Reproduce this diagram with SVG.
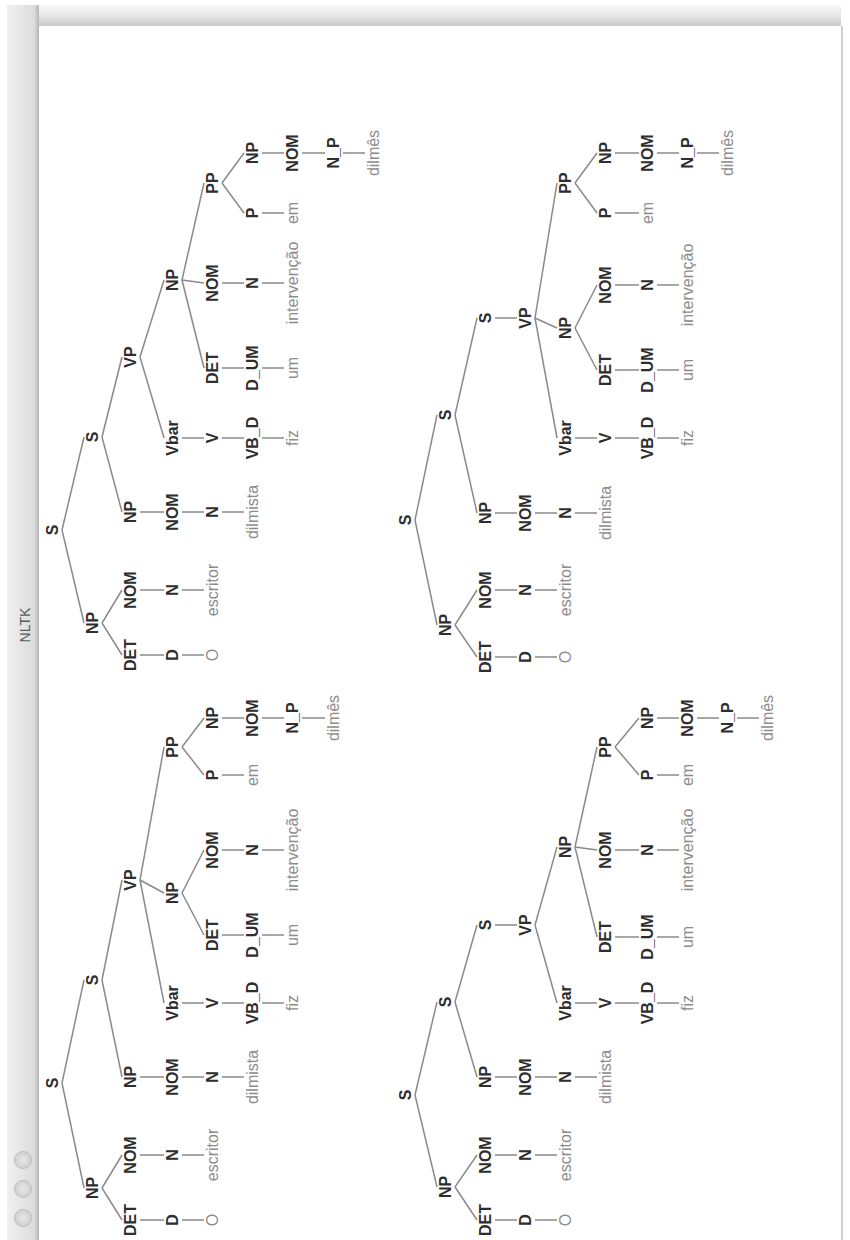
<svg xmlns="http://www.w3.org/2000/svg" width="850" height="1240" viewBox="0 0 850 1240">
<defs>
<linearGradient id="gTop" x1="0" y1="0" x2="0" y2="1">
<stop offset="0" stop-color="#f8f8f8"/><stop offset="0.5" stop-color="#e6e6e6"/><stop offset="1" stop-color="#cacaca"/>
</linearGradient>
<linearGradient id="gLeft" x1="0" y1="0" x2="1" y2="0">
<stop offset="0" stop-color="#f0f0f0"/><stop offset="0.85" stop-color="#dcdcdc"/><stop offset="1" stop-color="#b4b4b4"/>
</linearGradient>
<radialGradient id="gBtn"><stop offset="0" stop-color="#e8e8e8"/><stop offset="1" stop-color="#cfcfcf"/></radialGradient>
</defs>
<style>
.nt{font-family:"Liberation Sans",Arial,sans-serif;font-size:16px;font-weight:bold;fill:#2e2e2e;text-anchor:middle;dominant-baseline:central}
.lf{font-family:"Liberation Sans",Arial,sans-serif;font-size:16px;fill:#8c8c8c;text-anchor:middle;dominant-baseline:central}
.ttl{font-family:"Liberation Sans",Arial,sans-serif;font-size:14px;fill:#5a5a5a;text-anchor:middle;dominant-baseline:central}
#edges line{stroke:#8a8a8a;stroke-width:1.5}
</style>
<rect width="850" height="1240" fill="#ffffff"/>
<g id="window">
<rect x="39" y="5" width="802" height="21" fill="url(#gTop)"/>
<rect x="7" y="5" width="32" height="1235" fill="url(#gLeft)"/>
<line x1="842" y1="26" x2="842" y2="1240" stroke="#d0d0d0" stroke-width="2"/>
<text class="ttl" transform="translate(25,625) rotate(-90)">NLTK</text>
<circle cx="23" cy="1160" r="8.5" fill="url(#gBtn)" stroke="#bdbdbd"/>
<circle cx="23" cy="1189" r="8.5" fill="url(#gBtn)" stroke="#bdbdbd"/>
<circle cx="23" cy="1218" r="8.5" fill="url(#gBtn)" stroke="#bdbdbd"/>
</g>
<g id="edges">
<line x1="62" y1="530" x2="84" y2="623"/><line x1="62" y1="530" x2="84" y2="437"/>
<line x1="102" y1="623" x2="122" y2="655"/><line x1="102" y1="623" x2="122" y2="590"/>
<line x1="140" y1="655" x2="164" y2="655"/><line x1="182" y1="655" x2="204" y2="655"/>
<line x1="140" y1="590" x2="164" y2="590"/><line x1="182" y1="590" x2="204" y2="590"/>
<line x1="102" y1="437" x2="122" y2="512"/><line x1="102" y1="437" x2="122" y2="357"/>
<line x1="140" y1="512" x2="164" y2="512"/><line x1="182" y1="512" x2="204" y2="512"/><line x1="222" y1="512" x2="244" y2="512"/>
<line x1="140" y1="357" x2="164" y2="438"/><line x1="140" y1="357" x2="164" y2="280"/>
<line x1="182" y1="438" x2="204" y2="438"/><line x1="222" y1="438" x2="244" y2="438"/><line x1="262" y1="438" x2="284" y2="438"/>
<line x1="182" y1="280" x2="204" y2="368"/><line x1="182" y1="280" x2="204" y2="283"/><line x1="182" y1="280" x2="204" y2="183"/>
<line x1="222" y1="368" x2="244" y2="368"/><line x1="262" y1="368" x2="284" y2="368"/>
<line x1="222" y1="283" x2="244" y2="283"/><line x1="262" y1="283" x2="284" y2="283"/>
<line x1="222" y1="183" x2="244" y2="213"/><line x1="222" y1="183" x2="244" y2="153"/>
<line x1="262" y1="213" x2="284" y2="213"/>
<line x1="262" y1="153" x2="284" y2="153"/><line x1="302" y1="153" x2="325" y2="153"/><line x1="343" y1="153" x2="365" y2="153"/>

<line x1="62" y1="1083" x2="84" y2="1188"/><line x1="62" y1="1083" x2="84" y2="980"/>
<line x1="102" y1="1188" x2="122" y2="1220"/><line x1="102" y1="1188" x2="122" y2="1155"/>
<line x1="140" y1="1220" x2="164" y2="1220"/><line x1="182" y1="1220" x2="204" y2="1220"/>
<line x1="140" y1="1155" x2="164" y2="1155"/><line x1="182" y1="1155" x2="204" y2="1155"/>
<line x1="102" y1="980" x2="122" y2="1077"/><line x1="102" y1="980" x2="122" y2="880"/>
<line x1="140" y1="1077" x2="164" y2="1077"/><line x1="182" y1="1077" x2="204" y2="1077"/><line x1="222" y1="1077" x2="244" y2="1077"/>
<line x1="140" y1="880" x2="164" y2="1003"/><line x1="140" y1="880" x2="164" y2="893"/><line x1="140" y1="880" x2="164" y2="747"/>
<line x1="182" y1="1003" x2="204" y2="1003"/><line x1="222" y1="1003" x2="244" y2="1003"/><line x1="262" y1="1003" x2="284" y2="1003"/>
<line x1="182" y1="893" x2="204" y2="935"/><line x1="182" y1="893" x2="204" y2="850"/>
<line x1="222" y1="935" x2="244" y2="935"/><line x1="262" y1="935" x2="284" y2="935"/>
<line x1="222" y1="850" x2="244" y2="850"/><line x1="262" y1="850" x2="284" y2="850"/>
<line x1="182" y1="747" x2="204" y2="775"/><line x1="182" y1="747" x2="204" y2="718"/>
<line x1="222" y1="775" x2="244" y2="775"/>
<line x1="222" y1="718" x2="244" y2="718"/><line x1="262" y1="718" x2="284" y2="718"/><line x1="302" y1="718" x2="325" y2="718"/>

<line x1="415" y1="520" x2="437" y2="625"/><line x1="415" y1="520" x2="437" y2="415"/>
<line x1="455" y1="625" x2="477" y2="657"/><line x1="455" y1="625" x2="477" y2="590"/>
<line x1="495" y1="657" x2="517" y2="657"/><line x1="535" y1="657" x2="557" y2="657"/>
<line x1="495" y1="590" x2="517" y2="590"/><line x1="535" y1="590" x2="557" y2="590"/>
<line x1="455" y1="415" x2="477" y2="513"/><line x1="455" y1="415" x2="477" y2="318"/>
<line x1="495" y1="513" x2="517" y2="513"/><line x1="535" y1="513" x2="557" y2="513"/><line x1="575" y1="513" x2="597" y2="513"/>
<line x1="495" y1="318" x2="517" y2="318"/>
<line x1="535" y1="318" x2="557" y2="438"/><line x1="535" y1="318" x2="557" y2="328"/><line x1="535" y1="318" x2="557" y2="183"/>
<line x1="575" y1="438" x2="597" y2="438"/><line x1="615" y1="438" x2="639" y2="438"/><line x1="657" y1="438" x2="679" y2="438"/>
<line x1="575" y1="328" x2="597" y2="370"/><line x1="575" y1="328" x2="597" y2="285"/>
<line x1="615" y1="370" x2="639" y2="370"/><line x1="657" y1="370" x2="679" y2="370"/>
<line x1="615" y1="285" x2="639" y2="285"/><line x1="657" y1="285" x2="679" y2="285"/>
<line x1="575" y1="183" x2="597" y2="213"/><line x1="575" y1="183" x2="597" y2="153"/>
<line x1="615" y1="213" x2="639" y2="213"/>
<line x1="615" y1="153" x2="639" y2="153"/><line x1="657" y1="153" x2="679" y2="153"/><line x1="697" y1="153" x2="719" y2="153"/>

<line x1="415" y1="1095" x2="437" y2="1187"/><line x1="415" y1="1095" x2="437" y2="1002"/>
<line x1="455" y1="1187" x2="477" y2="1220"/><line x1="455" y1="1187" x2="477" y2="1155"/>
<line x1="495" y1="1220" x2="517" y2="1220"/><line x1="535" y1="1220" x2="557" y2="1220"/>
<line x1="495" y1="1155" x2="517" y2="1155"/><line x1="535" y1="1155" x2="557" y2="1155"/>
<line x1="455" y1="1002" x2="477" y2="1077"/><line x1="455" y1="1002" x2="477" y2="925"/>
<line x1="495" y1="1077" x2="517" y2="1077"/><line x1="535" y1="1077" x2="557" y2="1077"/><line x1="575" y1="1077" x2="597" y2="1077"/>
<line x1="495" y1="925" x2="517" y2="925"/>
<line x1="535" y1="925" x2="557" y2="1003"/><line x1="535" y1="925" x2="557" y2="847"/>
<line x1="575" y1="1003" x2="597" y2="1003"/><line x1="615" y1="1003" x2="639" y2="1003"/><line x1="657" y1="1003" x2="679" y2="1003"/>
<line x1="575" y1="847" x2="597" y2="937"/><line x1="575" y1="847" x2="597" y2="850"/><line x1="575" y1="847" x2="597" y2="747"/>
<line x1="615" y1="937" x2="639" y2="937"/><line x1="657" y1="937" x2="679" y2="937"/>
<line x1="615" y1="850" x2="639" y2="850"/><line x1="657" y1="850" x2="679" y2="850"/>
<line x1="615" y1="747" x2="639" y2="775"/><line x1="615" y1="747" x2="639" y2="718"/>
<line x1="657" y1="775" x2="679" y2="775"/>
<line x1="657" y1="718" x2="679" y2="718"/><line x1="697" y1="718" x2="719" y2="718"/><line x1="737" y1="718" x2="759" y2="718"/>
</g>

<g id="treeA">
<g id="a0"><text class="nt" transform="translate(52,530) rotate(-90)">S</text></g>
<g id="a1"><text class="nt" transform="translate(92,623) rotate(-90)">NP</text></g>
<g id="a2"><text class="nt" transform="translate(130,655) rotate(-90)">DET</text></g>
<g id="a3"><text class="nt" transform="translate(172,655) rotate(-90)">D</text></g>
<g id="a4"><text class="lf" transform="translate(212,655) rotate(-90)">O</text></g>
<g id="a5"><text class="nt" transform="translate(130,590) rotate(-90)">NOM</text></g>
<g id="a6"><text class="nt" transform="translate(172,590) rotate(-90)">N</text></g>
<g id="a7"><text class="lf" transform="translate(212,590) rotate(-90)">escritor</text></g>
<g id="a8"><text class="nt" transform="translate(92,437) rotate(-90)">S</text></g>
<g id="a9"><text class="nt" transform="translate(130,512) rotate(-90)">NP</text></g>
<g id="a10"><text class="nt" transform="translate(172,512) rotate(-90)">NOM</text></g>
<g id="a11"><text class="nt" transform="translate(212,512) rotate(-90)">N</text></g>
<g id="a12"><text class="lf" transform="translate(252,512) rotate(-90)">dilmista</text></g>
<g id="a13"><text class="nt" transform="translate(130,357) rotate(-90)">VP</text></g>
<g id="a14"><text class="nt" transform="translate(172,438) rotate(-90)">Vbar</text></g>
<g id="a15"><text class="nt" transform="translate(212,438) rotate(-90)">V</text></g>
<g id="a16"><text class="nt" transform="translate(252,438) rotate(-90)">VB_D</text></g>
<g id="a17"><text class="lf" transform="translate(292,438) rotate(-90)">fiz</text></g>
<g id="a18"><text class="nt" transform="translate(172,280) rotate(-90)">NP</text></g>
<g id="a19"><text class="nt" transform="translate(212,368) rotate(-90)">DET</text></g>
<g id="a20"><text class="nt" transform="translate(252,368) rotate(-90)">D_UM</text></g>
<g id="a21"><text class="lf" transform="translate(292,368) rotate(-90)">um</text></g>
<g id="a22"><text class="nt" transform="translate(212,283) rotate(-90)">NOM</text></g>
<g id="a23"><text class="nt" transform="translate(252,283) rotate(-90)">N</text></g>
<g id="a24"><text class="lf" transform="translate(292,283) rotate(-90)">intervenção</text></g>
<g id="a25"><text class="nt" transform="translate(212,183) rotate(-90)">PP</text></g>
<g id="a26"><text class="nt" transform="translate(252,213) rotate(-90)">P</text></g>
<g id="a27"><text class="lf" transform="translate(292,213) rotate(-90)">em</text></g>
<g id="a28"><text class="nt" transform="translate(252,153) rotate(-90)">NP</text></g>
<g id="a29"><text class="nt" transform="translate(292,153) rotate(-90)">NOM</text></g>
<g id="a30"><text class="nt" transform="translate(333,153) rotate(-90)">N_P</text></g>
<g id="a31"><text class="lf" transform="translate(373,153) rotate(-90)">dilmês</text></g>
</g>

<g id="treeB">
<g id="b0"><text class="nt" transform="translate(52,1083) rotate(-90)">S</text></g>
<g id="b1"><text class="nt" transform="translate(92,1188) rotate(-90)">NP</text></g>
<g id="b2"><text class="nt" transform="translate(130,1220) rotate(-90)">DET</text></g>
<g id="b3"><text class="nt" transform="translate(172,1220) rotate(-90)">D</text></g>
<g id="b4"><text class="lf" transform="translate(212,1220) rotate(-90)">O</text></g>
<g id="b5"><text class="nt" transform="translate(130,1155) rotate(-90)">NOM</text></g>
<g id="b6"><text class="nt" transform="translate(172,1155) rotate(-90)">N</text></g>
<g id="b7"><text class="lf" transform="translate(212,1155) rotate(-90)">escritor</text></g>
<g id="b8"><text class="nt" transform="translate(92,980) rotate(-90)">S</text></g>
<g id="b9"><text class="nt" transform="translate(130,1077) rotate(-90)">NP</text></g>
<g id="b10"><text class="nt" transform="translate(172,1077) rotate(-90)">NOM</text></g>
<g id="b11"><text class="nt" transform="translate(212,1077) rotate(-90)">N</text></g>
<g id="b12"><text class="lf" transform="translate(252,1077) rotate(-90)">dilmista</text></g>
<g id="b13"><text class="nt" transform="translate(130,880) rotate(-90)">VP</text></g>
<g id="b14"><text class="nt" transform="translate(172,1003) rotate(-90)">Vbar</text></g>
<g id="b15"><text class="nt" transform="translate(212,1003) rotate(-90)">V</text></g>
<g id="b16"><text class="nt" transform="translate(252,1003) rotate(-90)">VB_D</text></g>
<g id="b17"><text class="lf" transform="translate(292,1003) rotate(-90)">fiz</text></g>
<g id="b18"><text class="nt" transform="translate(172,893) rotate(-90)">NP</text></g>
<g id="b19"><text class="nt" transform="translate(212,935) rotate(-90)">DET</text></g>
<g id="b20"><text class="nt" transform="translate(252,935) rotate(-90)">D_UM</text></g>
<g id="b21"><text class="lf" transform="translate(292,935) rotate(-90)">um</text></g>
<g id="b22"><text class="nt" transform="translate(212,850) rotate(-90)">NOM</text></g>
<g id="b23"><text class="nt" transform="translate(252,850) rotate(-90)">N</text></g>
<g id="b24"><text class="lf" transform="translate(292,850) rotate(-90)">intervenção</text></g>
<g id="b25"><text class="nt" transform="translate(172,747) rotate(-90)">PP</text></g>
<g id="b26"><text class="nt" transform="translate(212,775) rotate(-90)">P</text></g>
<g id="b27"><text class="lf" transform="translate(252,775) rotate(-90)">em</text></g>
<g id="b28"><text class="nt" transform="translate(212,718) rotate(-90)">NP</text></g>
<g id="b29"><text class="nt" transform="translate(252,718) rotate(-90)">NOM</text></g>
<g id="b30"><text class="nt" transform="translate(292,718) rotate(-90)">N_P</text></g>
<g id="b31"><text class="lf" transform="translate(333,718) rotate(-90)">dilmês</text></g>
</g>

<g id="treeC">
<g id="c0"><text class="nt" transform="translate(405,520) rotate(-90)">S</text></g>
<g id="c1"><text class="nt" transform="translate(445,625) rotate(-90)">NP</text></g>
<g id="c2"><text class="nt" transform="translate(485,657) rotate(-90)">DET</text></g>
<g id="c3"><text class="nt" transform="translate(525,657) rotate(-90)">D</text></g>
<g id="c4"><text class="lf" transform="translate(565,657) rotate(-90)">O</text></g>
<g id="c5"><text class="nt" transform="translate(485,590) rotate(-90)">NOM</text></g>
<g id="c6"><text class="nt" transform="translate(525,590) rotate(-90)">N</text></g>
<g id="c7"><text class="lf" transform="translate(565,590) rotate(-90)">escritor</text></g>
<g id="c8"><text class="nt" transform="translate(445,415) rotate(-90)">S</text></g>
<g id="c9"><text class="nt" transform="translate(485,513) rotate(-90)">NP</text></g>
<g id="c10"><text class="nt" transform="translate(525,513) rotate(-90)">NOM</text></g>
<g id="c11"><text class="nt" transform="translate(565,513) rotate(-90)">N</text></g>
<g id="c12"><text class="lf" transform="translate(605,513) rotate(-90)">dilmista</text></g>
<g id="c13"><text class="nt" transform="translate(485,318) rotate(-90)">S</text></g>
<g id="c14"><text class="nt" transform="translate(525,318) rotate(-90)">VP</text></g>
<g id="c15"><text class="nt" transform="translate(565,438) rotate(-90)">Vbar</text></g>
<g id="c16"><text class="nt" transform="translate(605,438) rotate(-90)">V</text></g>
<g id="c17"><text class="nt" transform="translate(647,438) rotate(-90)">VB_D</text></g>
<g id="c18"><text class="lf" transform="translate(687,438) rotate(-90)">fiz</text></g>
<g id="c19"><text class="nt" transform="translate(565,328) rotate(-90)">NP</text></g>
<g id="c20"><text class="nt" transform="translate(605,370) rotate(-90)">DET</text></g>
<g id="c21"><text class="nt" transform="translate(647,370) rotate(-90)">D_UM</text></g>
<g id="c22"><text class="lf" transform="translate(687,370) rotate(-90)">um</text></g>
<g id="c23"><text class="nt" transform="translate(605,285) rotate(-90)">NOM</text></g>
<g id="c24"><text class="nt" transform="translate(647,285) rotate(-90)">N</text></g>
<g id="c25"><text class="lf" transform="translate(687,285) rotate(-90)">intervenção</text></g>
<g id="c26"><text class="nt" transform="translate(565,183) rotate(-90)">PP</text></g>
<g id="c27"><text class="nt" transform="translate(605,213) rotate(-90)">P</text></g>
<g id="c28"><text class="lf" transform="translate(647,213) rotate(-90)">em</text></g>
<g id="c29"><text class="nt" transform="translate(605,153) rotate(-90)">NP</text></g>
<g id="c30"><text class="nt" transform="translate(647,153) rotate(-90)">NOM</text></g>
<g id="c31"><text class="nt" transform="translate(687,153) rotate(-90)">N_P</text></g>
<g id="c32"><text class="lf" transform="translate(727,153) rotate(-90)">dilmês</text></g>
</g>

<g id="treeD">
<g id="d0"><text class="nt" transform="translate(405,1095) rotate(-90)">S</text></g>
<g id="d1"><text class="nt" transform="translate(445,1187) rotate(-90)">NP</text></g>
<g id="d2"><text class="nt" transform="translate(485,1220) rotate(-90)">DET</text></g>
<g id="d3"><text class="nt" transform="translate(525,1220) rotate(-90)">D</text></g>
<g id="d4"><text class="lf" transform="translate(565,1220) rotate(-90)">O</text></g>
<g id="d5"><text class="nt" transform="translate(485,1155) rotate(-90)">NOM</text></g>
<g id="d6"><text class="nt" transform="translate(525,1155) rotate(-90)">N</text></g>
<g id="d7"><text class="lf" transform="translate(565,1155) rotate(-90)">escritor</text></g>
<g id="d8"><text class="nt" transform="translate(445,1002) rotate(-90)">S</text></g>
<g id="d9"><text class="nt" transform="translate(485,1077) rotate(-90)">NP</text></g>
<g id="d10"><text class="nt" transform="translate(525,1077) rotate(-90)">NOM</text></g>
<g id="d11"><text class="nt" transform="translate(565,1077) rotate(-90)">N</text></g>
<g id="d12"><text class="lf" transform="translate(605,1077) rotate(-90)">dilmista</text></g>
<g id="d13"><text class="nt" transform="translate(485,925) rotate(-90)">S</text></g>
<g id="d14"><text class="nt" transform="translate(525,925) rotate(-90)">VP</text></g>
<g id="d15"><text class="nt" transform="translate(565,1003) rotate(-90)">Vbar</text></g>
<g id="d16"><text class="nt" transform="translate(605,1003) rotate(-90)">V</text></g>
<g id="d17"><text class="nt" transform="translate(647,1003) rotate(-90)">VB_D</text></g>
<g id="d18"><text class="lf" transform="translate(687,1003) rotate(-90)">fiz</text></g>
<g id="d19"><text class="nt" transform="translate(565,847) rotate(-90)">NP</text></g>
<g id="d20"><text class="nt" transform="translate(605,937) rotate(-90)">DET</text></g>
<g id="d21"><text class="nt" transform="translate(647,937) rotate(-90)">D_UM</text></g>
<g id="d22"><text class="lf" transform="translate(687,937) rotate(-90)">um</text></g>
<g id="d23"><text class="nt" transform="translate(605,850) rotate(-90)">NOM</text></g>
<g id="d24"><text class="nt" transform="translate(647,850) rotate(-90)">N</text></g>
<g id="d25"><text class="lf" transform="translate(687,850) rotate(-90)">intervenção</text></g>
<g id="d26"><text class="nt" transform="translate(605,747) rotate(-90)">PP</text></g>
<g id="d27"><text class="nt" transform="translate(647,775) rotate(-90)">P</text></g>
<g id="d28"><text class="lf" transform="translate(687,775) rotate(-90)">em</text></g>
<g id="d29"><text class="nt" transform="translate(647,718) rotate(-90)">NP</text></g>
<g id="d30"><text class="nt" transform="translate(687,718) rotate(-90)">NOM</text></g>
<g id="d31"><text class="nt" transform="translate(727,718) rotate(-90)">N_P</text></g>
<g id="d32"><text class="lf" transform="translate(767,718) rotate(-90)">dilmês</text></g>
</g>
</svg>
